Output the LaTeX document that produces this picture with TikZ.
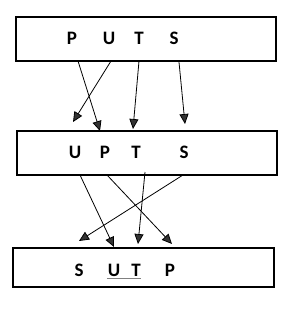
\documentclass[tikz,border=0pt]{standalone}
\usepackage{fontspec}
\setmainfont{Carlito}
\usetikzlibrary{arrows.meta}
\tikzset{
  box/.style={draw=black,line width=1.1pt,inner sep=0pt,fill=white},
  letter/.style={font=\fontsize{19}{19}\selectfont\bfseries,inner sep=0pt,anchor=center},
  arr/.style={draw=black,line width=0.8pt,-{Triangle[length=10pt,width=9pt,fill=black!80]}},
}
\begin{document}
\begin{tikzpicture}[x=1pt,y=-1pt]
\useasboundingbox (0,0) rectangle (300,317);
% boxes
\node[box,minimum width=260pt,minimum height=44pt] (b1) at (146,39) {};
\node[box,minimum width=260pt,minimum height=44pt] (b2) at (147,153) {};
\node[box,minimum width=261pt,minimum height=39pt] (b3) at (143.5,267.5) {};
% letters
\node[letter] (p1) at (72,38) {P};
\node[letter] (u1) at (109,38) {U};
\node[letter] (t1) at (139,38) {T};
\node[letter] (s1) at (174,38) {S};
\node[letter] (u2) at (75,152) {U};
\node[letter] (p2) at (105,152) {P};
\node[letter] (t2) at (136,152) {T};
\node[letter] (s2) at (184,152) {S};
\node[letter] (s3) at (79,270) {S};
\node[letter] (u3) at (114,270) {U};
\node[letter] (t3) at (136,270) {T};
\node[letter] (p3) at (170,270) {P};
\draw[gray,line width=1pt] (107,278) -- (141,278);
% start and end points
\coordinate (a1) at (78,61);   \coordinate (e1) at (100,131);
\coordinate (a2) at (111,61);  \coordinate (e2) at (73,122);
\coordinate (a3) at (139,61);  \coordinate (e3) at (133,129);
\coordinate (a4) at (179,62);  \coordinate (e4) at (185,124);
\coordinate (c1) at (80,175);  \coordinate (f1) at (114,247);
\coordinate (c2) at (107,175); \coordinate (f2) at (172,244);
\coordinate (c3) at (145,172); \coordinate (f3) at (138,244);
\coordinate (c4) at (183,175); \coordinate (f4) at (79,241);
\draw[arr] (a1) -- (e1);
\draw[arr] (a2) -- (e2);
\draw[arr] (a3) -- (e3);
\draw[arr] (a4) -- (e4);
\draw[arr] (c1) -- (f1);
\draw[arr] (c2) -- (f2);
\draw[arr] (c3) -- (f3);
\draw[arr] (c4) -- (f4);
\end{tikzpicture}
\end{document}
